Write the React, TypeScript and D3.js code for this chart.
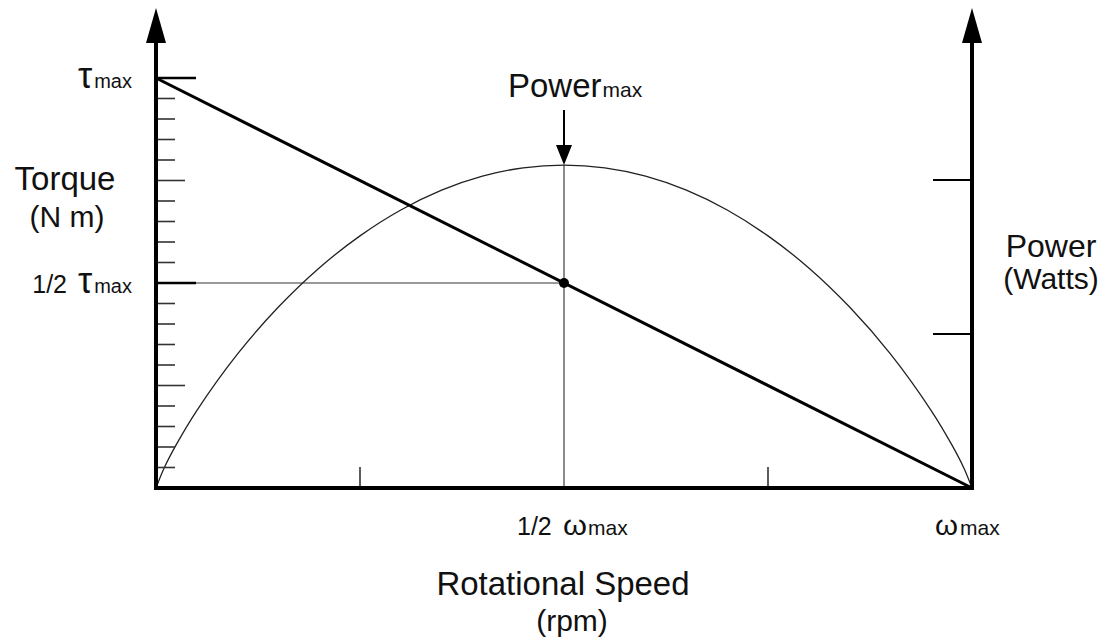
import React from "react";
import * as d3 from "d3";

// ---- data (fractions of ωmax, τmax; power in right-axis tick units) ----
const curveSpeed = [0, 0.01, 0.025, 0.05, 0.1, 0.15, 0.2, 0.25, 0.3, 0.35, 0.4, 0.45, 0.5, 0.55, 0.6, 0.65, 0.7, 0.75, 0.8, 0.85, 0.9, 0.95, 0.975, 0.99, 1];
const curvePower = [0, 0.13, 0.283, 0.503, 0.871, 1.175, 1.429, 1.637, 1.805, 1.934, 2.025, 2.079, 2.097, 2.079, 2.025, 1.934, 1.805, 1.637, 1.429, 1.175, 0.871, 0.503, 0.283, 0.13, 0];
const torqueSpeed = [0, 1];
const torqueValues = [1, 0];
const speedTicks = [0.25, 0.75];
const powerTicks = [1, 2];
const torqueMinorTicks = [0.05, 0.1, 0.15, 0.2, 0.3, 0.35, 0.4, 0.45, 0.55, 0.6, 0.65, 0.7, 0.8, 0.85, 0.9, 0.95];
const torqueMediumTicks = [0.25, 0.75];
const torqueMajorTicks = [0.5, 1];
const halfSpeed = 0.5;
const halfTorque = 0.5;
const peakPower = 2.097;

const FONT = "'Liberation Sans', Arial, Helvetica, sans-serif";

export default function App() {
  const W = 1105, H = 642;
  const x = d3.scaleLinear().domain([0, 1]).range([156, 972]);
  const yT = d3.scaleLinear().domain([0, 1]).range([488, 78]);
  const yP = d3.scaleLinear().domain([0, 3]).range([488, 26]);

  const powerLine = d3
    .line<number>()
    .x((d, i) => x(curveSpeed[i]))
    .y((d) => yP(d))
    .curve(d3.curveCatmullRom.alpha(0.5));

  const torqueLine = d3
    .line<number>()
    .x((d, i) => x(torqueSpeed[i]))
    .y((d) => yT(d));

  const x0 = x(0), x1 = x(1), y0 = yT(0);
  const axisTop = 40;

  return (
    <svg width={W} height={H} style={{ position: "absolute", left: 0, top: 0, background: "#fff" }} fontFamily={FONT}>
      <rect x={0} y={0} width={W} height={H} fill="#fff" />

      {/* guide lines */}
      <line x1={x(halfSpeed)} x2={x(halfSpeed)} y1={yP(peakPower)} y2={y0} stroke="#666" strokeWidth={1.5} />
      <line x1={x0 + 40} x2={x(halfSpeed)} y1={yT(halfTorque)} y2={yT(halfTorque)} stroke="#777" strokeWidth={1.6} />

      {/* power curve */}
      <path d={powerLine(curvePower) || ""} fill="none" stroke="#222" strokeWidth={1.3} />

      {/* torque line */}
      <path d={torqueLine(torqueValues) || ""} fill="none" stroke="#000" strokeWidth={3} />

      {/* half point dot */}
      <circle cx={x(halfSpeed)} cy={yT(halfTorque)} r={5} fill="#000" />

      {/* left torque ticks */}
      {torqueMinorTicks.map((t) => (
        <line key={"mi" + t} x1={x0} x2={x0 + 19} y1={yT(t)} y2={yT(t)} stroke="#333" strokeWidth={1.6} />
      ))}
      {torqueMediumTicks.map((t) => (
        <line key={"me" + t} x1={x0} x2={x0 + 29} y1={yT(t)} y2={yT(t)} stroke="#333" strokeWidth={1.6} />
      ))}
      {torqueMajorTicks.map((t) => (
        <line key={"ma" + t} x1={x0} x2={x0 + 40} y1={yT(t)} y2={yT(t)} stroke="#000" strokeWidth={2.6} />
      ))}

      {/* right power ticks */}
      {powerTicks.map((p) => (
        <line key={"p" + p} x1={x1 - 39} x2={x1} y1={yP(p)} y2={yP(p)} stroke="#000" strokeWidth={2.2} />
      ))}

      {/* bottom speed ticks */}
      {speedTicks.map((s) => (
        <line key={"s" + s} x1={x(s)} x2={x(s)} y1={y0 - 21} y2={y0} stroke="#333" strokeWidth={1.6} />
      ))}

      {/* axes */}
      <line x1={x0} x2={x0} y1={y0 + 2} y2={axisTop} stroke="#000" strokeWidth={4} />
      <line x1={x1} x2={x1} y1={y0 + 2} y2={axisTop} stroke="#000" strokeWidth={4} />
      <line x1={x0 - 2} x2={x1 + 2} y1={y0} y2={y0} stroke="#000" strokeWidth={4} />
      <polygon points={`${x0 - 10},43 ${x0 + 10},43 ${x0},8`} fill="#000" />
      <polygon points={`${x1 - 10},43 ${x1 + 10},43 ${x1},8`} fill="#000" />

      {/* power max arrow */}
      <line x1={x(halfSpeed)} x2={x(halfSpeed)} y1={110} y2={150} stroke="#000" strokeWidth={2} />
      <polygon points={`${x(halfSpeed) - 8},145 ${x(halfSpeed) + 8},145 ${x(halfSpeed)},${yP(peakPower)}`} fill="#000" />

      {/* labels */}
      <text x={508} y={97} fontSize={33} fill="#111">
        Power<tspan fontSize={21} dx={1}>max</tspan>
      </text>

      <text x={132} y={88} textAnchor="end" fill="#111">
        <tspan fontSize={36}>τ</tspan>
        <tspan fontSize={20} dx={2}>max</tspan>
      </text>
      <text x={132} y={293} textAnchor="end" fill="#111">
        <tspan fontSize={25}>1/2 </tspan>
        <tspan fontSize={36} dx={4}>τ</tspan>
        <tspan fontSize={20} dx={2}>max</tspan>
      </text>

      <text x={65} y={190} textAnchor="middle" fontSize={33} fill="#111">Torque</text>
      <text x={67} y={227} textAnchor="middle" fontSize={30} fill="#111">(N m)</text>

      <text x={1051} y={257} textAnchor="middle" fontSize={32} fill="#111">Power</text>
      <text x={1051} y={289} textAnchor="middle" fontSize={30} fill="#111">(Watts)</text>

      <text x={517} y={535} fontSize={25} fill="#111">1/2</text>
      <text x={563} y={535} fontSize={28} textLength={24} lengthAdjust="spacingAndGlyphs" fill="#111">ω</text>
      <text x={588} y={535} fontSize={21} fill="#111">max</text>

      <text x={935} y={535} fontSize={28} textLength={23} lengthAdjust="spacingAndGlyphs" fill="#111">ω</text>
      <text x={960} y={535} fontSize={21} fill="#111">max</text>

      <text x={563} y={595} textAnchor="middle" fontSize={33} fill="#111">Rotational Speed</text>
      <text x={572} y={631} textAnchor="middle" fontSize={30} fill="#111">(rpm)</text>
    </svg>
  );
}
